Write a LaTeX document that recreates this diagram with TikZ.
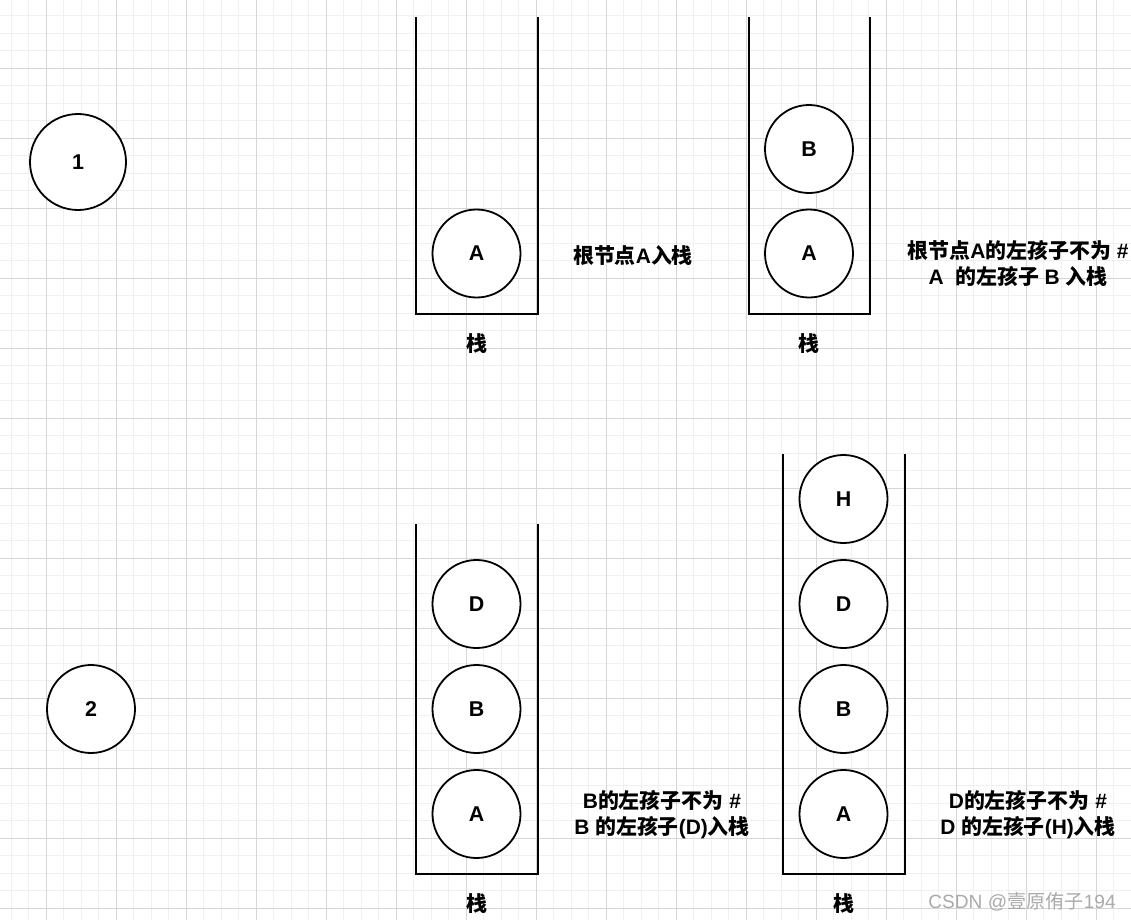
\documentclass[tikz,border=0pt]{standalone}
\usepackage{fontspec}
\setmainfont{Liberation Sans}
\newfontfamily\cjkf{Noto Sans CJK SC}
\newcommand{\zh}[1]{{\cjkf #1}}
\definecolor{gridminor}{HTML}{F0F0F0}
\definecolor{gridmajor}{HTML}{D6D6D6}
\definecolor{wmgray}{HTML}{AAAAAA}
\begin{document}
\begin{tikzpicture}[x=1bp,y=-1bp,
  item/.style={circle,draw=black,line width=1.8bp,fill=white,minimum size=88bp,inner sep=0pt,font=\fontsize{21.5}{24}\selectfont\bfseries},
  stackbox/.style={draw=black,line width=2bp},
  lbl/.style={font=\fontsize{21}{26}\selectfont\bfseries,align=center,inner sep=0pt},
  wm/.style={font=\fontsize{19.2}{22}\selectfont,text=wmgray,inner sep=0pt}]
\useasboundingbox (0,0) rectangle (1131,920);
\fill[white] (0,0) rectangle (1131,920);
% grid
\begin{scope}
\clip (0,0) rectangle (1131,920);
\foreach \i in {0,...,66}{
  \draw[gridminor,line width=1bp] ({-6.5+17.5*\i},0) -- ({-6.5+17.5*\i},920);
}
\foreach \i in {0,...,54}{
  \draw[gridminor,line width=1bp] (0,{-2+17.5*\i}) -- (1131,{-2+17.5*\i});
}
\foreach \i in {0,...,16}{
  \draw[gridmajor,line width=1bp] ({-24+70*\i},0) -- ({-24+70*\i},920);
}
\foreach \i in {0,...,13}{
  \draw[gridmajor,line width=1bp] (0,{-2+70*\i}) -- (1131,{-2+70*\i});
}
\end{scope}

% step numbers
\node[item,minimum size=96bp] (n1) at (78,162) {1};
\node[item] (n2) at (91,709) {2};

% stack 1
\coordinate (s1tl) at (415.5,17);
\coordinate (s1bl) at (415.5,314);
\coordinate (s1br) at (537.5,314);
\coordinate (s1tr) at (537.5,17);
\draw[stackbox] (s1tl) -- (s1bl) -- (s1br) -- (s1tr);
\node[item] (s1a) at (476.5,253.5) {A};
\node[lbl] (s1l) at (476.5,343.5) {\zh{栈}};
\node[lbl] (t1) at (633,255.5) {\zh{根节点}A\zh{入栈}};

% stack 2
\coordinate (s2tl) at (748.5,17);
\coordinate (s2bl) at (748.5,314);
\coordinate (s2br) at (870,314);
\coordinate (s2tr) at (870,17);
\draw[stackbox] (s2tl) -- (s2bl) -- (s2br) -- (s2tr);
\node[item] (s2b) at (809,149) {B};
\node[item] (s2a) at (809,253.5) {A};
\node[lbl] (s2l) at (809,343.5) {\zh{栈}};
\node[lbl] (t2) at (1018,263.5) {\zh{根节点}A\zh{的左孩子不为} \#\\A\ \ \zh{的左孩子} B \zh{入栈}};

% stack 3
\coordinate (s3tl) at (415.5,524);
\coordinate (s3bl) at (415.5,874);
\coordinate (s3br) at (537.5,874);
\coordinate (s3tr) at (537.5,524);
\draw[stackbox] (s3tl) -- (s3bl) -- (s3br) -- (s3tr);
\node[item] (s3d) at (476.5,604) {D};
\node[item] (s3b) at (476.5,709) {B};
\node[item] (s3a) at (476.5,814) {A};
\node[lbl] (s3l) at (476.5,903.5) {\zh{栈}};
\node[lbl] (t3) at (662,814.5) {B\zh{的左孩子不为} \#\\B \zh{的左孩子}(D)\zh{入栈}};

% stack 4
\coordinate (s4tl) at (782.5,454);
\coordinate (s4bl) at (782.5,874);
\coordinate (s4br) at (905,874);
\coordinate (s4tr) at (905,454);
\draw[stackbox] (s4tl) -- (s4bl) -- (s4br) -- (s4tr);
\node[item] (s4h) at (843.5,499) {H};
\node[item] (s4d) at (843.5,604) {D};
\node[item] (s4b) at (843.5,709) {B};
\node[item] (s4a) at (843.5,814) {A};
\node[lbl] (s4l) at (843.5,903.5) {\zh{栈}};
\node[lbl] (t4) at (1028,814.5) {D\zh{的左孩子不为} \#\\D \zh{的左孩子}(H)\zh{入栈}};

% watermark
\node[wm] (wm) at (1022,902) {CSDN @\zh{壹原侑子}194};
\end{tikzpicture}
\end{document}
